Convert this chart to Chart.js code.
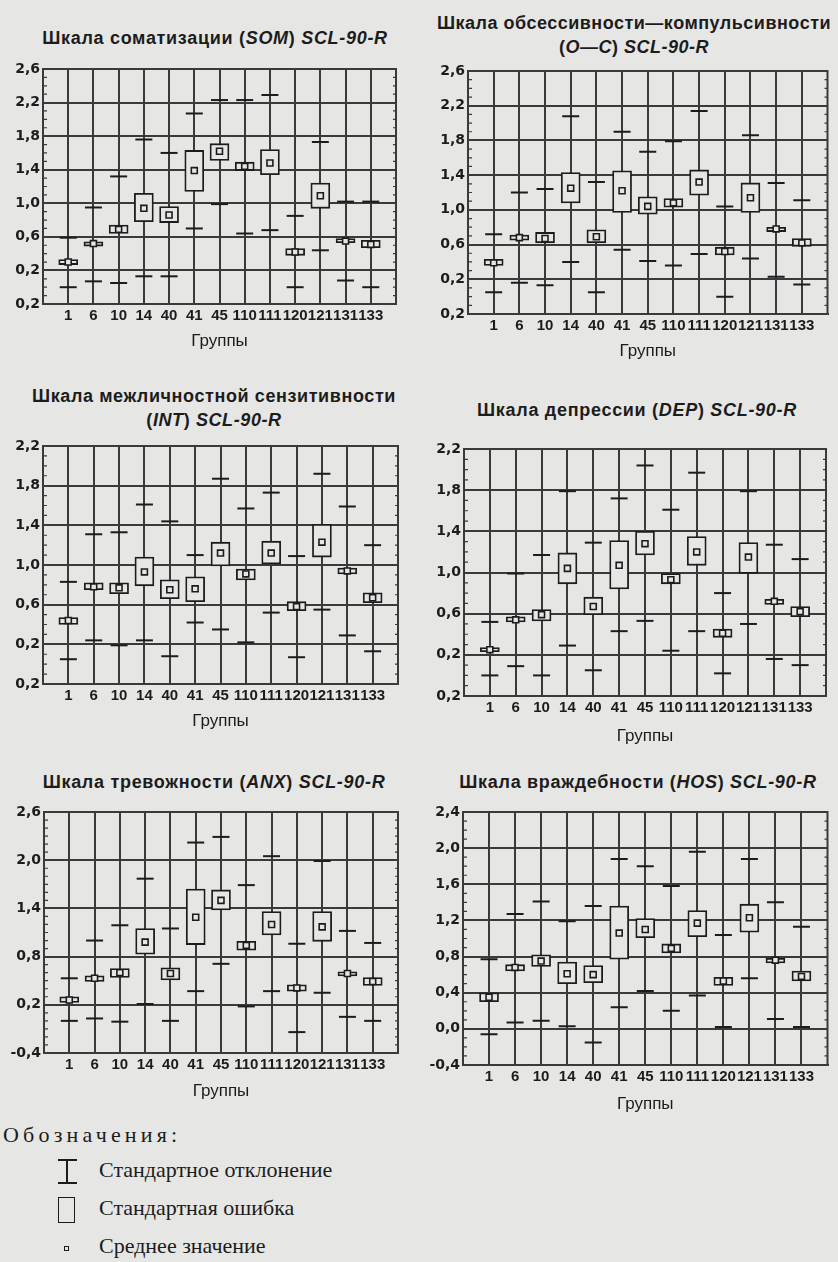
<!DOCTYPE html>
<html lang="ru">
<head>
<meta charset="utf-8">
<script src="https://cdn.jsdelivr.net/npm/chart.js@4.4.1/dist/chart.umd.min.js"></script>
<style>
  html, body { margin: 0; padding: 0; }
  body {
    width: 838px; height: 1262px; position: relative; overflow: hidden;
    background: #e6e6e4; color: #1c1c1c;
    font-family: "Liberation Sans", Arial, sans-serif;
  }
  .wrap { position: absolute; }
  .title {
    position: absolute; transform: translate(-50%, -50%);
    font-weight: bold; font-size: 18px; line-height: 24px;
    text-align: center; white-space: nowrap; letter-spacing: 0.7px;
  }
  .legend { position: absolute; font-family: "Liberation Serif", "DejaVu Serif", serif; font-size: 22px; white-space: nowrap; }
  .legend .head { position: absolute; left: 3px; top: 1122px; letter-spacing: 4.2px; }
  .legend .row { position: absolute; left: 99px; }
  .glyph { position: absolute; border-color: #1c1c1c; border-style: solid; }
</style>
</head>
<body>

<div class="title" style="left:215px; top:38px;">Шкала соматизации (<i>SOM</i>) <i>SCL-90-R</i></div>
<div class="title" style="left:634px; top:35px; letter-spacing:0.5px;">Шкала обсессивности—компульсивности<br>(<i>O—C</i>) <i>SCL-90-R</i></div>
<div class="title" style="left:214px; top:408px; letter-spacing:0.6px;">Шкала межличностной сензитивности<br>(<i>INT</i>) <i>SCL-90-R</i></div>
<div class="title" style="left:637px; top:410px;">Шкала депрессии (<i>DEP</i>) <i>SCL-90-R</i></div>
<div class="title" style="left:214px; top:782px;">Шкала тревожности (<i>ANX</i>) <i>SCL-90-R</i></div>
<div class="title" style="left:638px; top:782px;">Шкала враждебности (<i>HOS</i>) <i>SCL-90-R</i></div>

<div class="wrap" id="w-som"><canvas id="c-som"></canvas></div>
<div class="wrap" id="w-oc"><canvas id="c-oc"></canvas></div>
<div class="wrap" id="w-int"><canvas id="c-int"></canvas></div>
<div class="wrap" id="w-dep"><canvas id="c-dep"></canvas></div>
<div class="wrap" id="w-anx"><canvas id="c-anx"></canvas></div>
<div class="wrap" id="w-hos"><canvas id="c-hos"></canvas></div>

<div class="legend">
  <div class="head">Обозначения:</div>
  <!-- I-beam -->
  <div class="glyph" style="left:58px; top:1159px; width:19px; height:0; border-width:2px 0 0 0;"></div>
  <div class="glyph" style="left:66px; top:1159px; width:0; height:24px; border-width:0 0 0 2px;"></div>
  <div class="glyph" style="left:58px; top:1182px; width:19px; height:0; border-width:2px 0 0 0;"></div>
  <div class="row" style="top:1157px;">Стандартное отклонение</div>
  <!-- box -->
  <div class="glyph" style="left:58px; top:1197px; width:15px; height:24px; border-width:1.5px;"></div>
  <div class="row" style="top:1195px;">Стандартная ошибка</div>
  <!-- mean -->
  <div class="glyph" style="left:64px; top:1246px; width:3px; height:3px; border-width:1.5px;"></div>
  <div class="row" style="top:1233px;">Среднее значение</div>
</div>

<script>
const groups = ['1', '6', '10', '14', '40', '41', '45', '110', '111', '120', '121', '131', '133'];

// SOM
const somMean   = [0.30, 0.52, 0.69, 0.94, 0.86, 1.39, 1.62, 1.44, 1.48, 0.42, 1.09, 0.55, 0.51];
const somSeLow  = [0.27, 0.49, 0.64, 0.78, 0.77, 1.14, 1.51, 1.39, 1.34, 0.38, 0.94, 0.53, 0.47];
const somSeHigh = [0.33, 0.54, 0.74, 1.12, 0.96, 1.63, 1.71, 1.49, 1.64, 0.46, 1.24, 0.58, 0.56];
const somSdLow  = [0.00, 0.07, 0.05, 0.13, 0.13, 0.70, 0.99, 0.64, 0.68, 0.00, 0.44, 0.08, 0.00];
const somSdHigh = [0.59, 0.95, 1.32, 1.76, 1.60, 2.07, 2.23, 2.23, 2.29, 0.85, 1.73, 1.02, 1.02];

// O-C
const ocMean   = [0.39, 0.68, 0.67, 1.25, 0.69, 1.22, 1.04, 1.08, 1.32, 0.52, 1.14, 0.78, 0.62];
const ocSeLow  = [0.36, 0.65, 0.62, 1.08, 0.62, 0.97, 0.95, 1.03, 1.17, 0.48, 0.97, 0.75, 0.58];
const ocSeHigh = [0.43, 0.71, 0.74, 1.43, 0.77, 1.45, 1.15, 1.13, 1.46, 0.57, 1.31, 0.80, 0.67];
const ocSdLow  = [0.05, 0.16, 0.13, 0.40, 0.05, 0.54, 0.41, 0.36, 0.49, 0.00, 0.44, 0.23, 0.14];
const ocSdHigh = [0.72, 1.20, 1.24, 2.08, 1.32, 1.90, 1.67, 1.79, 2.14, 1.04, 1.86, 1.31, 1.11];

// INT
const intMean   = [0.44, 0.78, 0.77, 0.93, 0.75, 0.76, 1.12, 0.91, 1.12, 0.58, 1.23, 0.94, 0.67];
const intSeLow  = [0.40, 0.75, 0.71, 0.79, 0.66, 0.63, 0.99, 0.85, 1.01, 0.54, 1.08, 0.91, 0.62];
const intSeHigh = [0.47, 0.82, 0.82, 1.08, 0.85, 0.88, 1.23, 0.96, 1.24, 0.63, 1.41, 0.97, 0.72];
const intSdLow  = [0.05, 0.24, 0.19, 0.24, 0.08, 0.42, 0.35, 0.22, 0.52, 0.07, 0.55, 0.29, 0.13];
const intSdHigh = [0.83, 1.31, 1.33, 1.61, 1.44, 1.10, 1.87, 1.57, 1.73, 1.09, 1.92, 1.59, 1.20];

// DEP
const depMean   = [0.25, 0.54, 0.59, 1.04, 0.67, 1.07, 1.28, 0.93, 1.20, 0.41, 1.15, 0.72, 0.62];
const depSeLow  = [0.23, 0.52, 0.53, 0.89, 0.59, 0.84, 1.17, 0.89, 1.07, 0.37, 0.99, 0.69, 0.57];
const depSeHigh = [0.27, 0.57, 0.64, 1.19, 0.76, 1.31, 1.40, 0.99, 1.35, 0.45, 1.29, 0.74, 0.67];
const depSdLow  = [0.00, 0.09, 0.00, 0.29, 0.05, 0.43, 0.53, 0.24, 0.43, 0.02, 0.50, 0.16, 0.10];
const depSdHigh = [0.52, 0.99, 1.17, 1.79, 1.29, 1.72, 2.04, 1.61, 1.97, 0.80, 1.79, 1.27, 1.13];

// ANX
const anxMean   = [0.26, 0.53, 0.60, 0.98, 0.59, 1.29, 1.50, 0.94, 1.20, 0.41, 1.17, 0.59, 0.49];
const anxSeLow  = [0.23, 0.49, 0.54, 0.83, 0.51, 0.95, 1.38, 0.88, 1.07, 0.37, 0.99, 0.56, 0.44];
const anxSeHigh = [0.30, 0.56, 0.65, 1.15, 0.66, 1.64, 1.63, 0.99, 1.36, 0.45, 1.36, 0.61, 0.54];
const anxSdLow  = [0.00, 0.03, -0.01, 0.21, 0.00, 0.37, 0.71, 0.18, 0.37, -0.14, 0.35, 0.05, 0.00];
const anxSdHigh = [0.53, 1.00, 1.19, 1.77, 1.15, 2.22, 2.29, 1.69, 2.05, 0.96, 1.99, 1.12, 0.97];

// HOS
const hosMean   = [0.35, 0.68, 0.75, 0.61, 0.60, 1.06, 1.10, 0.89, 1.17, 0.53, 1.23, 0.76, 0.58];
const hosSeLow  = [0.30, 0.64, 0.69, 0.50, 0.51, 0.77, 1.01, 0.84, 1.02, 0.48, 1.07, 0.73, 0.53];
const hosSeHigh = [0.40, 0.71, 0.82, 0.74, 0.70, 1.36, 1.22, 0.94, 1.31, 0.57, 1.38, 0.78, 0.64];
const hosSdLow  = [-0.06, 0.07, 0.09, 0.03, -0.15, 0.24, 0.42, 0.20, 0.37, 0.02, 0.56, 0.11, 0.02];
const hosSdHigh = [0.77, 1.27, 1.41, 1.19, 1.36, 1.88, 1.80, 1.58, 1.96, 1.04, 1.88, 1.40, 1.13];

// y ticks (as printed, the minus sign is lost on the upper four charts)
const ticks28 = [-0.2, 0.2, 0.6, 1.0, 1.4, 1.8, 2.2, 2.6];
const labels28 = ['0,2', '0,2', '0,6', '1,0', '1,4', '1,8', '2,2', '2,6'];
const ticks24 = [-0.2, 0.2, 0.6, 1.0, 1.4, 1.8, 2.2];
const labels24 = ['0,2', '0,2', '0,6', '1,0', '1,4', '1,8', '2,2'];
const anxTicks = [-0.4, 0.2, 0.8, 1.4, 2.0, 2.6];
const anxLabels = ['-0,4', '0,2', '0,8', '1,4', '2,0', '2,6'];
const hosTicks = [-0.4, 0.0, 0.4, 0.8, 1.2, 1.6, 2.0, 2.4];
const hosLabels = ['-0,4', '0,0', '0,4', '0,8', '1,2', '1,6', '2,0', '2,4'];

const ink = '#1c1c1c';
const gridInk = '#3a3a3a';
const paper = '#e6e6e4';

// frame + small minor ticks on both sides of the plot
const framePlugin = {
  id: 'frame',
  afterDatasetsDraw(chart) {
    const {ctx, chartArea: a, scales: {y}} = chart;
    ctx.save();
    ctx.strokeStyle = gridInk;
    ctx.lineWidth = 1.2;
    const n = Math.round((y.max - y.min) * 10);
    for (let i = 1; i < n; i++) {
      const py = y.getPixelForValue(y.min + i / 10);
      ctx.beginPath();
      ctx.moveTo(a.left, py); ctx.lineTo(a.left + 4, py);
      ctx.moveTo(a.right, py); ctx.lineTo(a.right - 3, py);
      ctx.stroke();
    }
    ctx.lineWidth = 2;
    ctx.strokeRect(a.left, a.top, a.right - a.left, a.bottom - a.top);
    ctx.restore();
  },
};

function makeChart(key, box, yTicks, yLabels, mean, seLow, seHigh, sdLow, sdHigh) {
  const padTop = 14;
  const wrap = document.getElementById('w-' + key);
  const height = box.groupsY + 10 - (box.top - padTop);
  Object.assign(wrap.style, {
    left: box.canvasLeft + 'px', top: (box.top - padTop) + 'px',
    width: box.canvasWidth + 'px', height: height + 'px',
  });

  const pts = values => values.map((v, i) => ({x: i + 1, y: v}));

  new Chart(document.getElementById('c-' + key), {
    data: {
      datasets: [
        {
          type: 'scatter', order: 0, data: pts(mean),
          pointStyle: 'rect', pointRadius: 4.2, borderWidth: 1.6,
          borderColor: ink, backgroundColor: paper,
        },
        {
          type: 'scatter', order: 1, data: pts(sdHigh),
          pointStyle: 'line', pointRadius: 8.5, borderWidth: 2, borderColor: ink,
        },
        {
          type: 'scatter', order: 1, data: pts(sdLow),
          pointStyle: 'line', pointRadius: 8.5, borderWidth: 2, borderColor: ink,
        },
        {
          type: 'bar', order: 2,
          data: seLow.map((lo, i) => ({x: i + 1, y: [lo, seHigh[i]]})),
          backgroundColor: paper, borderColor: ink, borderWidth: 1.8,
          borderSkipped: false, barThickness: 19,
        },
      ],
    },
    options: {
      responsive: true,
      maintainAspectRatio: false,
      animation: false,
      layout: {padding: {top: padTop, right: box.canvasLeft + box.canvasWidth - box.right, left: 0, bottom: 0}},
      plugins: {legend: {display: false}, tooltip: {enabled: false}},
      scales: {
        x: {
          type: 'linear', min: 0, max: 14, offset: false,
          afterBuildTicks: scale => { scale.ticks = groups.map((g, i) => ({value: i + 1})); },
          afterFit: scale => { scale.height = box.groupsY + 10 - box.bottom; },
          ticks: {
            autoSkip: false, maxRotation: 0, padding: 3, color: ink,
            font: {family: '"Liberation Sans", Arial, sans-serif', size: 15, weight: 'bold'},
            callback: (value, index) => groups[index],
          },
          grid: {color: gridInk, lineWidth: 2, drawTicks: false, offset: false},
          border: {color: gridInk, width: 2},
          title: {
            display: true, text: 'Группы', color: ink, padding: 0,
            font: {family: '"Liberation Sans", Arial, sans-serif', size: 17},
          },
        },
        y: {
          type: 'linear', min: yTicks[0], max: yTicks[yTicks.length - 1],
          afterBuildTicks: scale => { scale.ticks = yTicks.map(v => ({value: v})); },
          afterFit: scale => { scale.width = box.left - box.canvasLeft; },
          ticks: {
            padding: 3, color: ink,
            font: {family: '"DejaVu Sans", sans-serif', size: 14, weight: 'bold'},
            callback: (value, index) => yLabels[index],
          },
          grid: {color: gridInk, lineWidth: 2, drawTicks: false},
          border: {color: gridInk, width: 2},
        },
      },
    },
    plugins: [framePlugin],
  });
}

makeChart('som', {canvasLeft: 0, canvasWidth: 410, left: 43, top: 69, right: 396, bottom: 304, groupsY: 342},
  ticks28, labels28, somMean, somSeLow, somSeHigh, somSdLow, somSdHigh);
makeChart('oc', {canvasLeft: 420, canvasWidth: 418, left: 468, top: 71, right: 828, bottom: 314, groupsY: 352},
  ticks28, labels28, ocMean, ocSeLow, ocSeHigh, ocSdLow, ocSdHigh);
makeChart('int', {canvasLeft: 0, canvasWidth: 410, left: 43, top: 446, right: 398, bottom: 684, groupsY: 722},
  ticks24, labels24, intMean, intSeLow, intSeHigh, intSdLow, intSdHigh);
makeChart('dep', {canvasLeft: 420, canvasWidth: 418, left: 464, top: 449, right: 826, bottom: 696, groupsY: 737},
  ticks24, labels24, depMean, depSeLow, depSeHigh, depSdLow, depSdHigh);
makeChart('anx', {canvasLeft: 0, canvasWidth: 410, left: 44, top: 812, right: 398, bottom: 1053, groupsY: 1092},
  anxTicks, anxLabels, anxMean, anxSeLow, anxSeHigh, anxSdLow, anxSdHigh);
makeChart('hos', {canvasLeft: 420, canvasWidth: 418, left: 463, top: 812, right: 828, bottom: 1065, groupsY: 1105},
  hosTicks, hosLabels, hosMean, hosSeLow, hosSeHigh, hosSdLow, hosSdHigh);
</script>
</body>
</html>
